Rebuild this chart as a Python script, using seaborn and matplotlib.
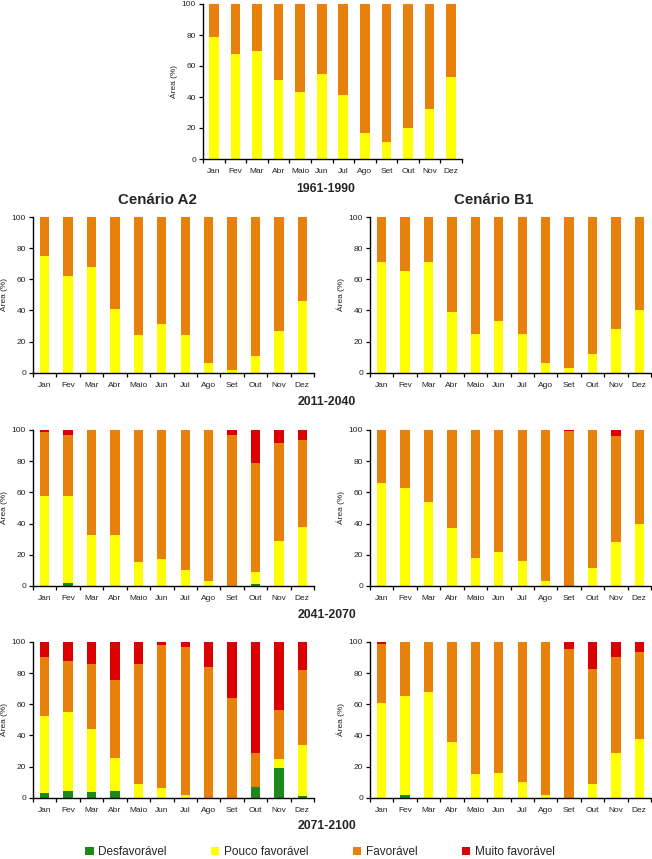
import numpy as np
import pandas as pd
import matplotlib
matplotlib.use("Agg")
import matplotlib.pyplot as plt
import seaborn as sns
from matplotlib.patches import Patch
from matplotlib.ticker import FixedLocator

months = ["Jan", "Fev", "Mar", "Abr", "Maio", "Jun", "Jul", "Ago", "Set", "Out", "Nov", "Dez"]
categories = ["Desfavorável", "Pouco favorável", "Favorável", "Muito favorável"]
colors = ["#1b8a1b", "#ffff00", "#e8800c", "#dd0000"]

# 1961-1990
p1961_desf = [0, 0, 0, 0, 0, 0, 0, 0, 0, 0, 0, 0]
p1961_pouco = [79, 68, 70, 51, 43, 55, 41, 17, 11, 20, 32, 53]
p1961_fav = [21, 32, 30, 49, 57, 45, 59, 83, 89, 80, 68, 47]
p1961_muito = [0, 0, 0, 0, 0, 0, 0, 0, 0, 0, 0, 0]

# Cenário A2, 2011-2040
a2_2011_desf = [0, 0, 0, 0, 0, 0, 0, 0, 0, 0, 0, 0]
a2_2011_pouco = [75, 62, 68, 41, 24, 31, 24, 6, 2, 11, 27, 46]
a2_2011_fav = [25, 38, 32, 59, 76, 69, 76, 94, 98, 89, 73, 54]
a2_2011_muito = [0, 0, 0, 0, 0, 0, 0, 0, 0, 0, 0, 0]

# Cenário B1, 2011-2040
b1_2011_desf = [0, 0, 0, 0, 0, 0, 0, 0, 0, 0, 0, 0]
b1_2011_pouco = [71, 65, 71, 39, 25, 33, 25, 6, 3, 12, 28, 40]
b1_2011_fav = [29, 35, 29, 61, 75, 67, 75, 94, 97, 88, 72, 60]
b1_2011_muito = [0, 0, 0, 0, 0, 0, 0, 0, 0, 0, 0, 0]

# Cenário A2, 2041-2070
a2_2041_desf = [0, 2, 0, 0, 0, 0, 0, 0, 0, 1, 0, 0]
a2_2041_pouco = [58, 56, 33, 33, 15.5, 17, 10, 3, 0, 8, 29, 38]
a2_2041_fav = [40.5, 39, 67, 67, 84.5, 83, 90, 97, 97, 70, 62.5, 55.5]
a2_2041_muito = [1.5, 3, 0, 0, 0, 0, 0, 0, 3, 21, 8.5, 6.5]

# Cenário B1, 2041-2070
b1_2041_desf = [0, 0, 0, 0, 0, 0, 0, 0, 0, 0, 0, 0]
b1_2041_pouco = [66, 63, 54, 37, 18, 22, 16, 3.5, 0, 11.5, 28, 40]
b1_2041_fav = [34, 37, 46, 63, 82, 78, 84, 96.5, 99.5, 88.5, 68, 60]
b1_2041_muito = [0, 0, 0, 0, 0, 0, 0, 0, 0.5, 0, 4, 0]

# Cenário A2, 2071-2100
a2_2071_desf = [3, 4, 3.5, 4.5, 0, 0, 0, 0, 0, 7, 19, 1]
a2_2071_pouco = [49.5, 51, 40.5, 21, 9, 6, 2, 0, 0, 0, 6, 33]
a2_2071_fav = [38, 33, 42, 50, 77, 92, 94.5, 84, 64, 21.5, 31.5, 48]
a2_2071_muito = [9.5, 12, 14, 24.5, 14, 2, 3.5, 16, 36, 71.5, 43.5, 18]

# Cenário B1, 2071-2100
b1_2071_desf = [0, 1.5, 0, 0, 0, 0, 0, 0, 0, 0, 0, 0]
b1_2071_pouco = [61, 63.5, 68, 36, 15.5, 16, 10, 2, 0, 9, 28.5, 37.5]
b1_2071_fav = [37.5, 35, 32, 64, 84.5, 84, 90, 98, 95.5, 73.5, 62, 56]
b1_2071_muito = [1.5, 0, 0, 0, 0, 0, 0, 0, 4.5, 17.5, 9.5, 6.5]

yticks = [0, 20, 40, 60, 80, 100]
ylabel = "Área (%)"

sns.set_theme(style="ticks")
plt.rcParams["font.family"] = ["Liberation Sans", "DejaVu Sans"]

W, H = 652, 859
fig = plt.figure(figsize=(W / 100, H / 100), dpi=100)


def fx(px):
    return px / W


def fy(py):
    return 1 - py / H


def make_panel(rect, values, bar_width):
    ax = fig.add_axes(rect)
    bottom = np.zeros(len(months))
    for cat, col, vals in zip(categories, colors, values):
        vals = np.asarray(vals, dtype=float)
        df = pd.DataFrame({"Mês": months, "Área": vals})
        sns.barplot(data=df, x="Mês", y="Área", order=months, color=col,
                    saturation=1, width=bar_width, linewidth=0,
                    bottom=bottom.copy(), ax=ax, errorbar=None)
        bottom = bottom + vals
    ax.set_xlim(-0.5, len(months) - 0.5)
    ax.set_ylim(0, 100)
    ax.set_yticks(yticks)
    ax.set_yticklabels([str(t) for t in yticks])
    ax.set_xticks(range(len(months)))
    ax.set_xticklabels(months)
    ax.xaxis.set_minor_locator(FixedLocator(np.arange(-0.5, len(months), 1.0)))
    ax.tick_params(axis="x", which="major", length=0, pad=6.5, labelsize=6,
                   labelcolor="#222222")
    ax.tick_params(axis="x", which="minor", length=3, width=0.9, color="black",
                   direction="out")
    ax.tick_params(axis="y", length=3, width=0.9, pad=2, labelsize=6,
                   labelcolor="#222222", color="black", direction="out")
    ax.set_xlabel("")
    ax.set_ylabel(ylabel, fontsize=6, color="#222222", labelpad=3)
    for s in ["top", "right"]:
        ax.spines[s].set_visible(False)
    for s in ["left", "bottom"]:
        ax.spines[s].set_color("black")
        ax.spines[s].set_linewidth(1.0)
    return ax


# top panel
make_panel([fx(203), fy(159), fx(462) - fx(203), fy(4) - fy(159)],
           [p1961_desf, p1961_pouco, p1961_fav, p1961_muito], 0.45)

lx, rx, pw = fx(33), fx(370), fx(281)
rows = [
    (372.7, 217.0, [a2_2011_desf, a2_2011_pouco, a2_2011_fav, a2_2011_muito],
     [b1_2011_desf, b1_2011_pouco, b1_2011_fav, b1_2011_muito]),
    (586.0, 430.0, [a2_2041_desf, a2_2041_pouco, a2_2041_fav, a2_2041_muito],
     [b1_2041_desf, b1_2041_pouco, b1_2041_fav, b1_2041_muito]),
    (797.7, 642.0, [a2_2071_desf, a2_2071_pouco, a2_2071_fav, a2_2071_muito],
     [b1_2071_desf, b1_2071_pouco, b1_2071_fav, b1_2071_muito]),
]
for bot, top, va, vb in rows:
    make_panel([lx, fy(bot), pw, fy(top) - fy(bot)], va, 0.4)
    make_panel([rx, fy(bot), pw, fy(top) - fy(bot)], vb, 0.4)

# titles
fig.text(fx(326), fy(189), "1961-1990", ha="center", va="center",
         fontsize=8.8, fontweight="bold")
fig.text(fx(157), fy(200), "Cenário A2", ha="center", va="center",
         fontsize=10.8, fontweight="bold")
fig.text(fx(494), fy(200), "Cenário B1", ha="center", va="center",
         fontsize=10.8, fontweight="bold")
fig.text(fx(327), fy(402), "2011-2040", ha="center", va="center",
         fontsize=8.8, fontweight="bold")
fig.text(fx(327), fy(615), "2041-2070", ha="center", va="center",
         fontsize=8.8, fontweight="bold")
fig.text(fx(327), fy(826), "2071-2100", ha="center", va="center",
         fontsize=8.8, fontweight="bold")

handles = [Patch(facecolor=c, edgecolor="none", label=l) for c, l in zip(colors, categories)]
fig.legend(handles=handles, loc="center", bbox_to_anchor=(fx(320), fy(852)),
           ncol=4, frameon=False, fontsize=8.5, handlelength=0.7,
           handleheight=0.7, handletextpad=0.4, columnspacing=3.75,
           borderaxespad=0, borderpad=0)

fig.savefig("out.png", dpi=100)
